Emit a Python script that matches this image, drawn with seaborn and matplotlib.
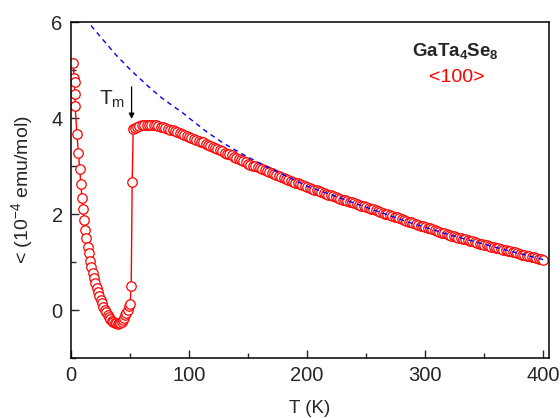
import matplotlib
matplotlib.use("Agg")
import matplotlib.pyplot as plt
import seaborn as sns
import numpy as np

# ---- data ----
T_low = [2.0, 2.5, 3.0, 3.2, 3.5, 5.0, 6.3, 7.3, 8.3, 9.3, 10.2, 11.1, 12.0, 13.0,
         14.0, 15.0, 16.1, 17.2, 18.3, 19.4, 20.5, 21.6, 22.7, 23.8, 25.0, 26.2,
         27.4, 28.6, 29.8, 31.0, 32.2, 33.4, 34.6, 35.8, 37.0, 38.2, 39.4, 40.6,
         41.8, 43.0, 44.0, 45.0, 46.0, 47.0, 48.0, 49.0, 50.0, 51.0, 51.8, 52.7]
chi_low = [5.14, 4.84, 4.75, 4.49, 4.25, 3.67, 3.27, 2.94, 2.63, 2.33, 2.10, 1.88,
           1.67, 1.50, 1.32, 1.18, 1.03, 0.90, 0.77, 0.66, 0.56, 0.46, 0.37, 0.29,
           0.21, 0.14, 0.07, 0.01, -0.05, -0.10, -0.15, -0.19, -0.22, -0.25, -0.27,
           -0.28, -0.29, -0.28, -0.27, -0.24, -0.20, -0.16, -0.11, -0.06, 0.01,
           0.08, 0.12, 0.50, 2.67, 3.77]

T_high = [54, 56, 58, 60, 62, 64, 66, 68, 70, 72, 74, 76, 78, 80, 82, 84, 86, 88,
          90, 92, 94, 96, 98, 100, 102, 104, 106, 108, 110, 112, 114, 116, 118,
          120, 122, 124, 126, 128, 130, 132, 134, 136, 138, 140, 142, 144, 146,
          148, 150, 152, 154, 156, 158, 160, 162, 164, 166, 168, 170, 172, 174,
          176, 178, 180, 182, 184, 186, 188, 190, 192, 194, 196, 198, 200, 202,
          204, 206, 208, 210, 212, 214, 216, 218, 220, 222, 224, 226, 228, 230,
          232, 234, 236, 238, 240, 242, 244, 246, 248, 250, 252, 254, 256, 258,
          260, 262, 264, 266, 268, 270, 272, 274, 276, 278, 280, 282, 284, 286,
          288, 290, 292, 294, 296, 298, 300, 302, 304, 306, 308, 310, 312, 314,
          316, 318, 320, 322, 324, 326, 328, 330, 332, 334, 336, 338, 340, 342,
          344, 346, 348, 350, 352, 354, 356, 358, 360, 362, 364, 366, 368, 370,
          372, 374, 376, 378, 380, 382, 384, 386, 388, 390, 392, 394, 396, 398,
          400]
chi_high = [3.80, 3.82, 3.84, 3.85, 3.86, 3.86, 3.86, 3.86, 3.85, 3.85, 3.84, 3.82,
            3.81, 3.79, 3.78, 3.76, 3.74, 3.72, 3.71, 3.69, 3.67, 3.65, 3.63, 3.61,
            3.59, 3.57, 3.55, 3.53, 3.51, 3.49, 3.46, 3.44, 3.42, 3.40, 3.37, 3.35,
            3.33, 3.31, 3.28, 3.26, 3.24, 3.22, 3.19, 3.17, 3.14, 3.12, 3.10, 3.08,
            3.05, 3.03, 3.01, 2.99, 2.97, 2.95, 2.93, 2.91, 2.89, 2.87, 2.85, 2.83,
            2.81, 2.79, 2.77, 2.75, 2.73, 2.71, 2.69, 2.67, 2.65, 2.64, 2.62, 2.60,
            2.58, 2.56, 2.54, 2.53, 2.51, 2.49, 2.47, 2.46, 2.44, 2.42, 2.40, 2.39,
            2.37, 2.36, 2.34, 2.32, 2.30, 2.29, 2.27, 2.26, 2.24, 2.23, 2.21, 2.19,
            2.17, 2.16, 2.14, 2.13, 2.11, 2.10, 2.08, 2.06, 2.04, 2.03, 2.01, 1.99,
            1.97, 1.96, 1.94, 1.93, 1.91, 1.89, 1.87, 1.86, 1.84, 1.83, 1.81, 1.79,
            1.77, 1.76, 1.74, 1.73, 1.71, 1.70, 1.68, 1.66, 1.64, 1.63, 1.61, 1.60,
            1.58, 1.57, 1.55, 1.54, 1.52, 1.51, 1.49, 1.48, 1.47, 1.46, 1.44, 1.43,
            1.41, 1.40, 1.38, 1.37, 1.36, 1.35, 1.33, 1.32, 1.31, 1.30, 1.29, 1.28,
            1.26, 1.25, 1.23, 1.22, 1.21, 1.20, 1.18, 1.17, 1.15, 1.14, 1.13, 1.12,
            1.11, 1.10, 1.08, 1.07, 1.06, 1.05]

T_fit = [12.0, 25, 38.6, 51.3, 66.8, 76.7, 95, 102, 115, 128.7, 145, 165, 200,
         244, 287, 320, 362, 400]
chi_fit = [6.07, 5.69, 5.30, 4.98, 4.63, 4.42, 4.10, 3.96, 3.71, 3.48, 3.25,
           2.99, 2.58, 2.19, 1.82, 1.57, 1.29, 1.05]

x_ticks = [0, 100, 200, 300, 400]
y_ticks = [0, 2, 4, 6]

sns.set_style("white")
plt.rcParams['font.family'] = ['Liberation Sans', 'DejaVu Sans']
plt.rcParams['mathtext.default'] = 'regular'

fig = plt.figure(figsize=(5.6, 4.18), dpi=100)
ax = fig.add_axes([71/560, 1-358/418, (549-71)/560, (358-22)/418])

T_all = T_low + T_high
chi_all = chi_low + chi_high

sns.lineplot(x=T_all, y=chi_all, ax=ax, color='red', linewidth=1.0,
             marker='o', markersize=6.8, markerfacecolor='white',
             markeredgecolor='red', markeredgewidth=0.9,
             estimator=None, sort=False)
sns.lineplot(x=T_fit, y=chi_fit, ax=ax, color='#0000ff', linewidth=1.0,
             dashes=False, estimator=None, sort=False)
ax.lines[-1].set_dashes((3.5, 3))
ax.lines[-1].set_zorder(3)

ax.set_xlim(0, 404.8)
ax.set_ylim(-1, 6)
ax.set_xticks(x_ticks)
ax.set_yticks(y_ticks)
ax.set_xticks([50, 150, 250, 350], minor=True)
ax.set_yticks([-1, 1, 3, 5], minor=True)
ax.tick_params(which='major', direction='in', length=6, width=1, labelsize=14.5,
               bottom=True, left=True, top=False, right=False, pad=6)
ax.tick_params(which='minor', direction='in', length=3.5, width=1,
               bottom=True, left=True, top=False, right=False)
for s in ax.spines.values():
    s.set_visible(True)
    s.set_linewidth(1.1)
    s.set_color('black')

ax.set_xlabel('T (K)', fontsize=13.5)
ax.set_ylabel('< (10$^{-4}$ emu/mol)', fontsize=14)
ax.xaxis.set_label_coords(0.5, -0.125)
ax.yaxis.set_label_coords(-0.075, 0.5)

ax.text(455/560, 1-51/418, 'GaTa$_4$Se$_8$', transform=fig.transFigure,
        ha='center', va='center', fontsize=13.5, fontweight='bold')
ax.text(457/560, 1-78/418, '<100>', transform=fig.transFigure,
        ha='center', va='center', fontsize=14, color='red')

ax.text(24, 4.38, 'T$_m$', fontsize=15, ha='left', va='center')
ax.annotate('', xy=(51.3, 3.98), xytext=(51.3, 4.65),
            arrowprops=dict(arrowstyle='-|>', color='black', lw=0.9,
                            mutation_scale=8, shrinkA=0, shrinkB=0))

fig.savefig('out.png', dpi=100)
